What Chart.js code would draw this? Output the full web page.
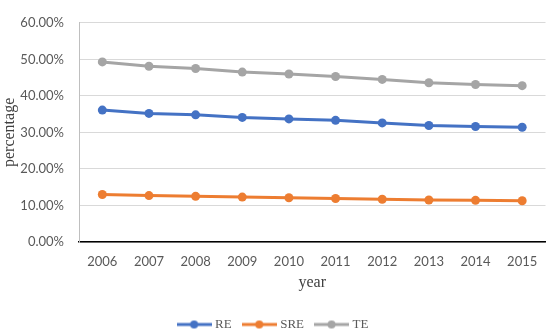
<!DOCTYPE html>
<html>
<head>
<meta charset="utf-8">
<script src="https://cdn.jsdelivr.net/npm/chart.js@4/dist/chart.umd.min.js"></script>
<style>
  html, body { margin: 0; padding: 0; background: #fff; }
  #wrap { width: 550px; height: 331px; }
</style>
</head>
<body>
<div id="wrap"><canvas id="chart" width="550" height="331"></canvas></div>
<script>
// Data
const years = ['2006', '2007', '2008', '2009', '2010', '2011', '2012', '2013', '2014', '2015'];
const reValues = [36.1, 35.2, 34.8, 34.1, 33.7, 33.3, 32.6, 31.9, 31.6, 31.4];
const sreValues = [13.0, 12.7, 12.5, 12.3, 12.1, 11.9, 11.7, 11.5, 11.4, 11.3];
const teValues = [49.3, 48.1, 47.5, 46.5, 46.0, 45.3, 44.5, 43.6, 43.1, 42.8];
const yTicks = [0, 10, 20, 30, 40, 50, 60];

const colors = { RE: '#4472C4', SRE: '#ED7D31', TE: '#A5A5A5' };

// legend marker: short line with a dot in the middle
function legendMark(color) {
    const c = document.createElement('canvas');
    c.width = 35; c.height = 10;
    const g = c.getContext('2d');
    g.strokeStyle = color; g.lineWidth = 3;
    g.beginPath(); g.moveTo(0, 5); g.lineTo(35, 5); g.stroke();
    g.fillStyle = color;
    g.beginPath(); g.arc(17.5, 5, 4, 0, Math.PI * 2); g.fill();
    return c;
}

function series(label, data) {
    return {
        label: label,
        data: data,
        borderColor: colors[label],
        backgroundColor: colors[label],
        borderWidth: 3,
        pointRadius: 4.5,
        pointHoverRadius: 4.5,
        pointBorderWidth: 0,
        pointStyle: 'circle',
        tension: 0
    };
}

const ctx = document.getElementById('chart').getContext('2d');
new Chart(ctx, {
    type: 'line',
    data: {
        labels: years,
        datasets: [series('RE', reValues), series('SRE', sreValues), series('TE', teValues)]
    },
    options: {
        responsive: false,
        animation: false,
        layout: { padding: { top: 8, right: 2, bottom: -10, left: 0 } },
        plugins: {
            tooltip: { enabled: false },
            legend: {
                position: 'bottom',
                labels: {
                    usePointStyle: true,
                    pointStyleWidth: 29,
                    padding: 13,
                    color: '#595959',
                    font: { family: 'Liberation Serif', size: 13 },
                    generateLabels(chart) {
                        return chart.data.datasets.map((ds, i) => ({
                            text: ds.label,
                            pointStyle: legendMark(ds.borderColor),
                            fontColor: '#595959',
                            lineWidth: 0,
                            strokeStyle: 'transparent',
                            fillStyle: ds.borderColor,
                            datasetIndex: i
                        }));
                    }
                }
            }
        },
        scales: {
            x: {
                offset: true,
                grid: { display: false, drawTicks: false },
                border: { color: '#000', width: 1.5 },
                ticks: { padding: 12, color: '#595959', font: { family: 'Lato', size: 13 } },
                title: {
                    display: true, text: 'year', color: '#404040',
                    font: { family: 'Liberation Serif', size: 16 },
                    padding: { top: 0, bottom: 13 }
                },
                afterFit(scale) { scale.height = 63; }
            },
            y: {
                min: 0, max: 60,
                afterBuildTicks(scale) { scale.ticks = yTicks.map(v => ({ value: v })); },
                grid: { color: '#d9d9d9', lineWidth: 1, drawTicks: false },
                border: { color: '#bfbfbf', width: 1 },
                ticks: {
                    padding: 15, color: '#595959',
                    font: { family: 'Lato', size: 13 },
                    callback: v => v.toFixed(2) + '%'
                },
                title: {
                    display: true, text: 'percentage', color: '#404040',
                    font: { family: 'Liberation Serif', size: 16 },
                    padding: 0
                },
                afterFit(scale) { scale.width = 79; }
            }
        }
    }
});
</script>
</body>
</html>
